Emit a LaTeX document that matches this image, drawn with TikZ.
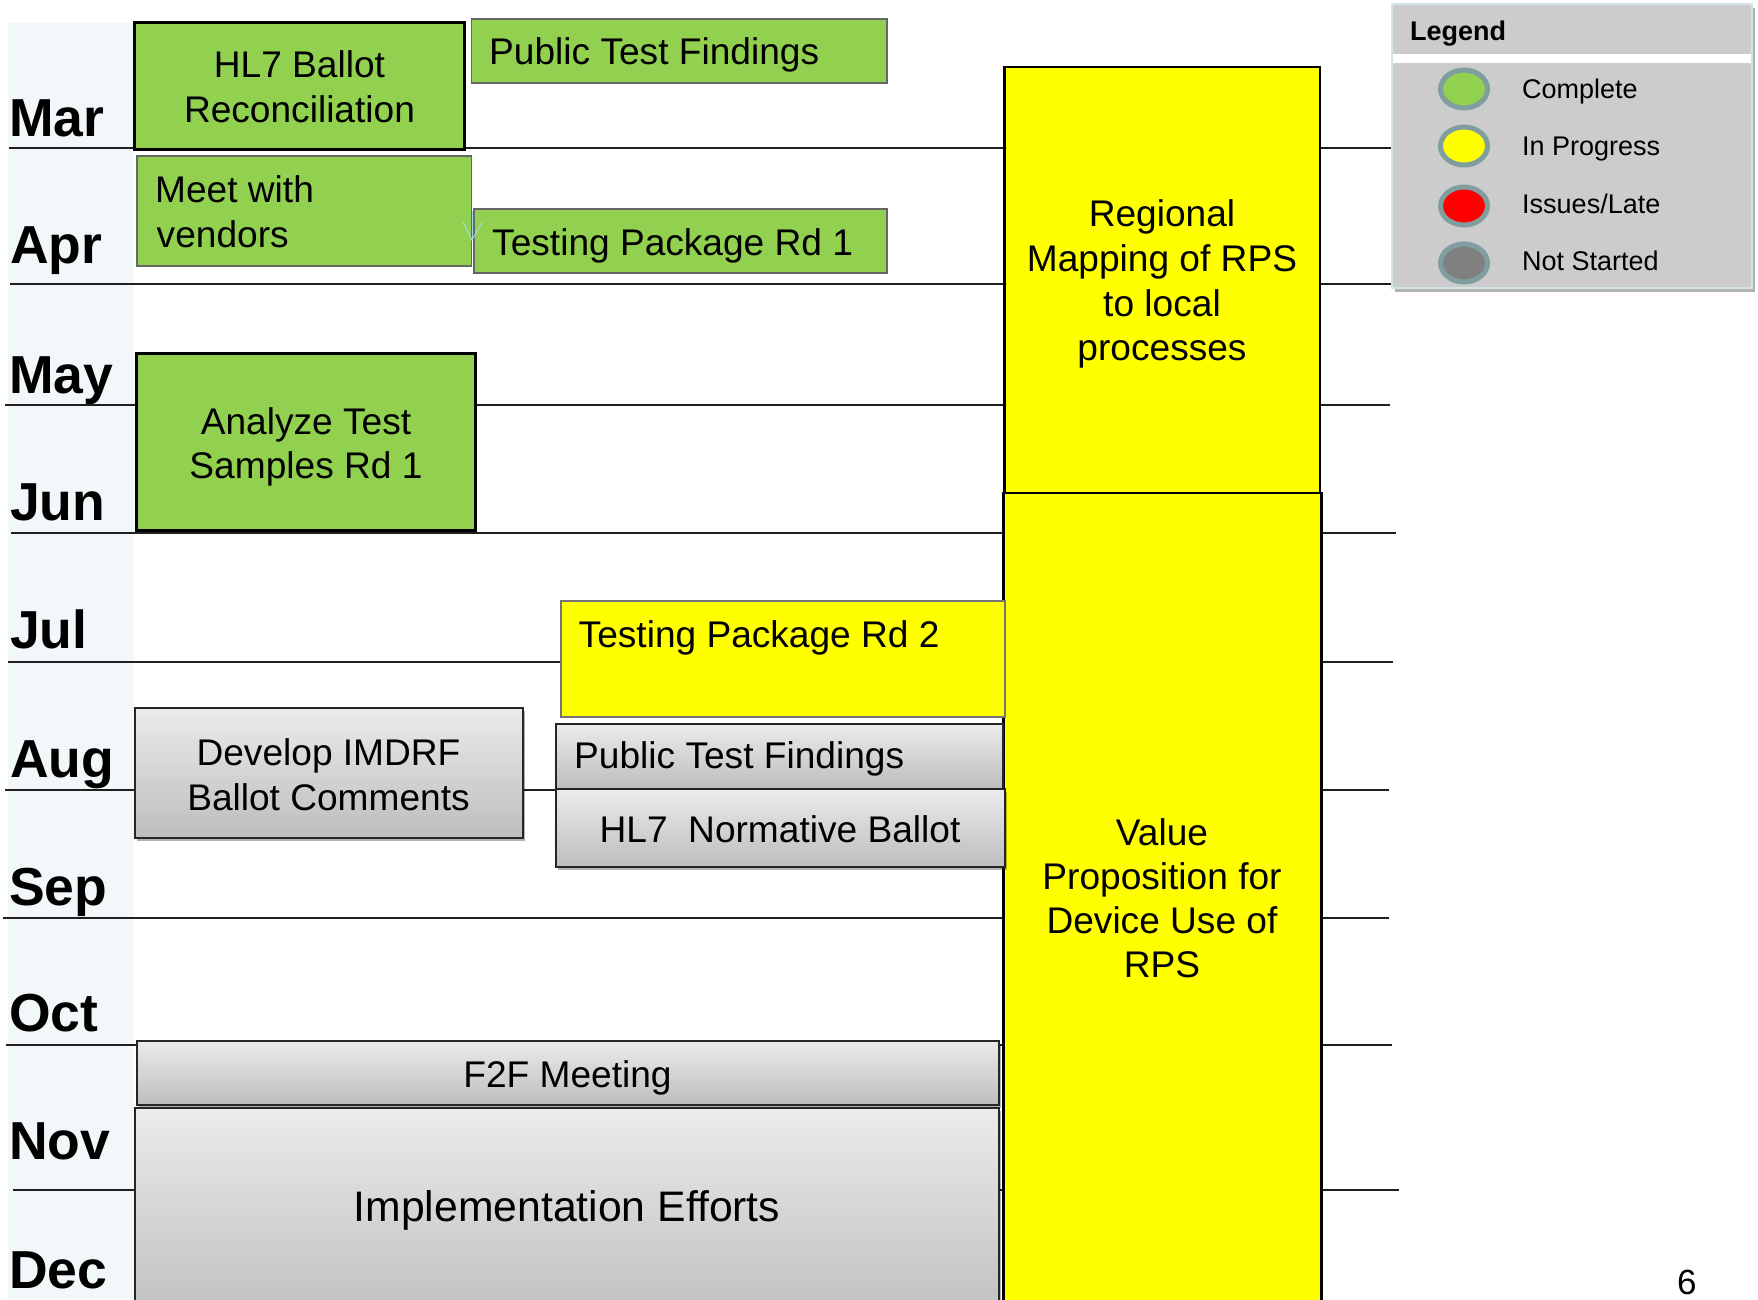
\documentclass[tikz,border=0pt]{standalone}
\usepackage{fontspec}
\setmainfont{Liberation Sans}
\usetikzlibrary{shadows,fit,shapes.geometric}
\definecolor{taskgreen}{HTML}{92D050}
\definecolor{taskyellow}{HTML}{FFFF00}
\definecolor{bandcol}{HTML}{F2F7FA}
\definecolor{legendgray}{HTML}{CCCCCC}
\definecolor{legendborder}{HTML}{D2E4E7}
\definecolor{ringcol}{RGB}{128,158,160}
\definecolor{graytop}{HTML}{EBEBEB}
\definecolor{graybot}{HTML}{BDBDBD}
\definecolor{notstarted}{HTML}{808080}
\definecolor{arrowblue}{HTML}{A9D6E5}
\begin{document}
\begin{tikzpicture}[x=1pt,y=-1pt,
  month/.style={anchor=base west, inner sep=0, font=\fontsize{53.5}{60}\selectfont\bfseries},
  txt/.style={inner sep=0, font=\fontsize{37.1}{44}\selectfont},
  bigtxt/.style={inner sep=0, font=\fontsize{42.7}{50}\selectfont},
  legtxt/.style={inner sep=0, anchor=base west, font=\fontsize{27}{32}\selectfont},
  gridline/.style={line width=1.8pt, draw=black!88},
  boxbase/.style={inner sep=0, outer sep=0},
  greenbox/.style={boxbase, draw=black!60, line width=1.2pt, fill=taskgreen},
  greenthick/.style={boxbase, draw=black, line width=3pt, fill=taskgreen},
  yellowthin/.style={boxbase, draw=black!55, line width=1.2pt, fill=taskyellow},
  yellowbig/.style={boxbase, draw=black, line width=2.5pt, fill=taskyellow},
  graybox/.style={boxbase, draw=black!85, line width=2pt, top color=graytop, bottom color=graybot,
     drop shadow={shadow xshift=2pt, shadow yshift=-3pt, opacity=0.3, fill=black}},
  dot/.style={ellipse, minimum width=47pt, minimum height=38pt, draw=ringcol, line width=5pt, inner sep=0}
]
\useasboundingbox (0,0) rectangle (1758,1299);
\clip (0,0) rectangle (1758,1299);
\fill[white] (0,0) rectangle (1758,1299);

% month band
\fill[bandcol] (8,23) rectangle (134,1299);

% grid lines
\draw[gridline] (9,148) -- (1392,148);
\draw[gridline] (10,284) -- (1397,284);
\draw[gridline] (5,405) -- (1390,405);
\draw[gridline] (11,533) -- (1396,533);
\draw[gridline] (8,662) -- (1393,662);
\draw[gridline] (5,790) -- (1389,790);
\draw[gridline] (3,918) -- (1389,918);
\draw[gridline] (6,1045) -- (1392,1045);
\draw[gridline] (13,1190) -- (1399,1190);

% month labels
\node[month] (mar) at (9,136) {Mar};
\node[month] (apr) at (10,263) {Apr};
\node[month] (may) at (9,393) {May};
\node[month] (jun) at (10,520) {Jun};
\node[month] (jul) at (10,648) {Jul};
\node[month] (aug) at (10,777) {Aug};
\node[month] (sep) at (9,905) {Sep};
\node[month] (oct) at (9,1031) {Oct};
\node[month] (nov) at (9,1159) {Nov};
\node[month] (dec) at (9,1288) {Dec};

% big yellow boxes
\node[yellowbig, fit={(1004.5,67) (1320,493)}] (regional) {};
\node[yellowbig, fit={(1003.5,493) (1321.5,1320)}] (value) {};

% green boxes
\node[greenthick, fit={(134.7,22) (464.2,149)}] (hl7rec) {};
\node[greenbox, fit={(471.6,19) (887,83)}] (pubtfa) {};
\node[greenbox, fit={(137,156) (471.6,266)}] (meet) {};
\node[greenbox, fit={(474,209) (887,273)}] (tpra) {};
\node[greenthick, fit={(136.6,353) (475.3,530)}] (analyze) {};

% yellow small
\node[yellowthin, fit={(561,601) (1005,717)}] (tprb) {};

% gray boxes
\node[graybox, fit={(134.5,708) (522.5,838)}] (develop) {};
\node[graybox, fit={(556,724) (1002.5,789)}] (pubtfb) {};
\node[graybox, fit={(555.5,789) (1005,867)}] (hl7norm) {};
\node[graybox, fit={(136.7,1041) (999,1105)}] (f2f) {};
\node[graybox, fit={(134.5,1108) (999,1330)}] (impl) {};

% texts
\node[txt, anchor=base] (hl7recA) at (299.5,77) {HL7 Ballot};
\node[txt, anchor=base] (hl7recB) at (299.5,122) {Reconciliation};
\node[txt, anchor=base west] (pubtfaT) at (489,64) {Public Test Findings};
\node[txt, anchor=base west] (meetA) at (155,202) {Meet with};
\node[txt, anchor=base west] (meetB) at (156.5,247) {vendors};
\node[txt, anchor=base west] (tpraT) at (492,255) {Testing Package Rd 1};
\node[txt, anchor=base] (analyzeA) at (306,434) {Analyze Test};
\node[txt, anchor=base] (analyzeB) at (306,478) {Samples Rd 1};
\node[txt, anchor=base] (regA) at (1162,226) {Regional};
\node[txt, anchor=base] (regB) at (1162,271) {Mapping of RPS};
\node[txt, anchor=base] (regC) at (1162,316) {to local};
\node[txt, anchor=base] (regD) at (1162,360.5) {processes};
\node[txt, anchor=base west] (tprbT) at (578.5,647) {Testing Package Rd 2};
\node[txt, anchor=base] (devA) at (328.5,765) {Develop IMDRF};
\node[txt, anchor=base] (devB) at (328.5,810) {Ballot Comments};
\node[txt, anchor=base west] (pubtfbT) at (574,768) {Public Test Findings};
\node[txt, anchor=base] (hl7normT) at (780,842) {HL7~ Normative Ballot};
\node[txt, anchor=base] (valA) at (1162,845) {Value};
\node[txt, anchor=base] (valB) at (1162,889) {Proposition for};
\node[txt, anchor=base] (valC) at (1162,933) {Device Use of};
\node[txt, anchor=base] (valD) at (1162,977) {RPS};
\node[txt, anchor=base] (f2fT) at (567.5,1087) {F2F Meeting};
\node[bigtxt, anchor=base] (implT) at (567,1221.5) {Implementation Efforts};

% small stray arrow mark
\coordinate (arA) at (472,211);
\coordinate (arB) at (472,240);
\coordinate (arL) at (463,222);
\coordinate (arR) at (482,222);
\draw[arrowblue, line width=1pt] (arA) -- (arB);
\draw[arrowblue, line width=1pt] (arL) -- (arB) -- (arR);

% legend
\node[boxbase, fit={(1392,4) (1752,288)}, fill=legendgray, draw=legendborder, line width=1.5pt,
  drop shadow={shadow xshift=3pt, shadow yshift=-4pt, opacity=0.3, fill=black}] (legend) {};
\node[boxbase, fit={(1393,54) (1751,63)}, fill=white] (legendsep) {};
\node[inner sep=0, anchor=base west, font=\fontsize{27}{32}\selectfont\bfseries] (legtitle) at (1410,40) {Legend};
\node[dot, fill=taskgreen] (dotc) at (1464,89) {};
\node[dot, fill=taskyellow] (doti) at (1464,146) {};
\node[dot, fill=red] (dotl) at (1464,206) {};
\node[dot, fill=notstarted] (dotn) at (1464,263) {};
\node[legtxt] (labc) at (1522,98) {Complete};
\node[legtxt] (labi) at (1522,155) {In Progress};
\node[legtxt] (labl) at (1522,213) {Issues/Late};
\node[legtxt] (labn) at (1522,270) {Not Started};

% page number
\node[inner sep=0, anchor=base west, font=\fontsize{35}{40}\selectfont] (pagenum) at (1677,1294) {6};
\end{tikzpicture}
\end{document}
